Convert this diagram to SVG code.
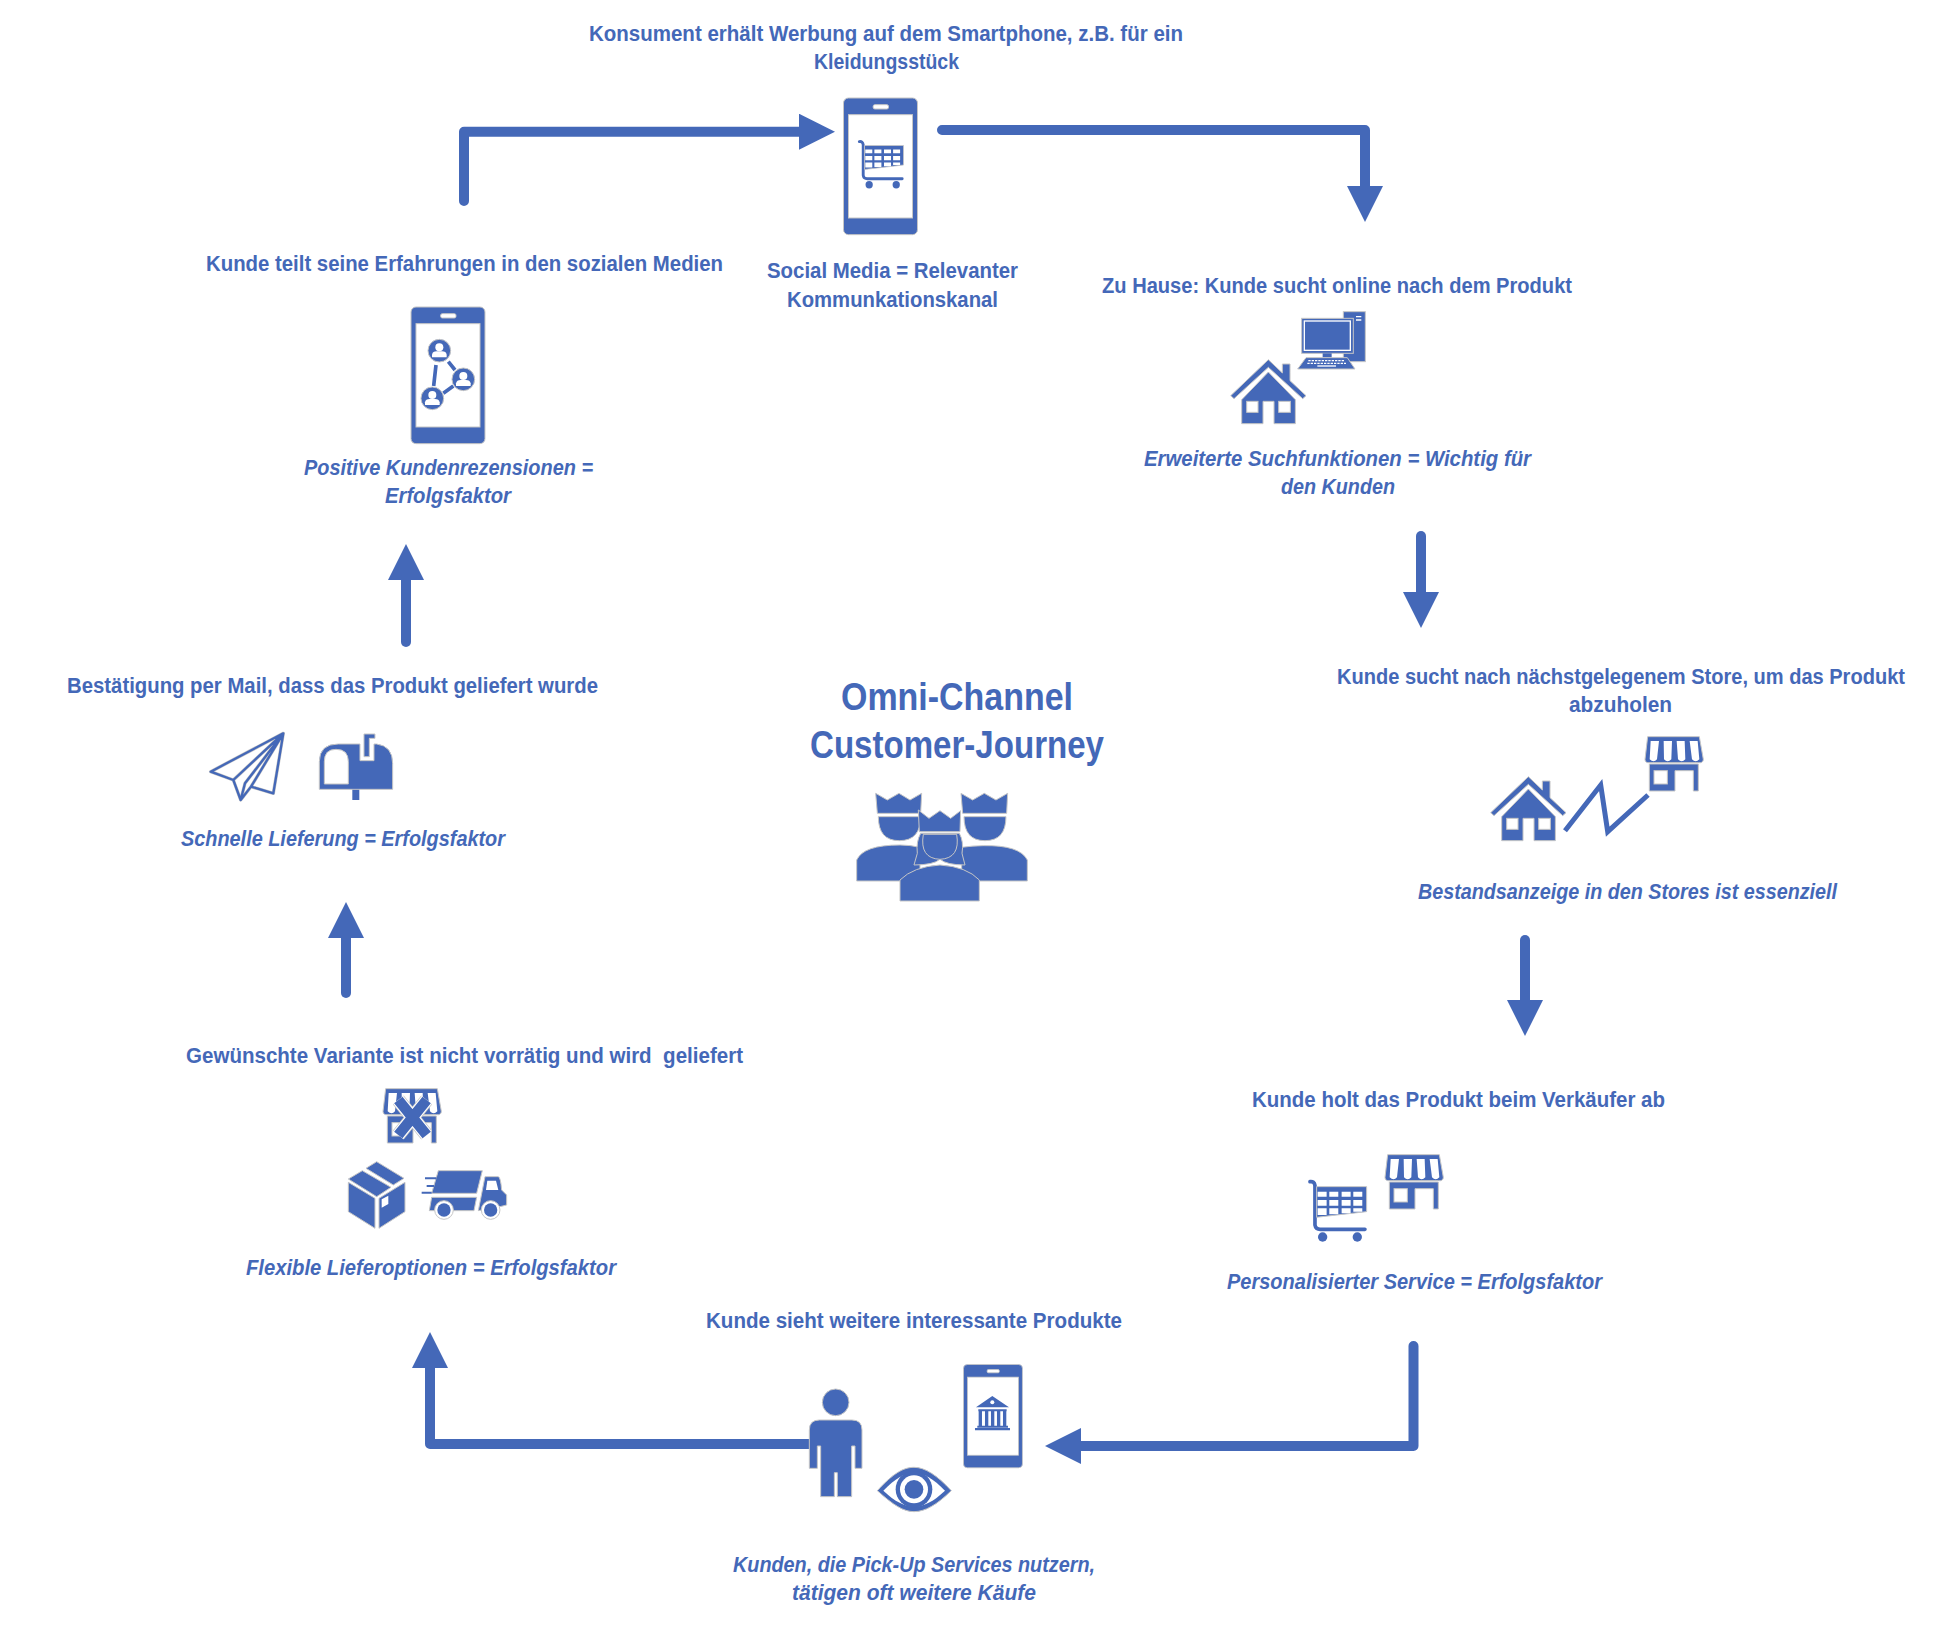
<svg xmlns="http://www.w3.org/2000/svg" xmlns:xlink="http://www.w3.org/1999/xlink" width="1946" height="1632" viewBox="0 0 1946 1632">
<style>
text{font-family:"Liberation Sans",Arial,sans-serif;font-weight:700;font-size:22px;fill:#4468B8}
.i{font-style:italic}
.t{font-size:38px}
.c{fill:none;stroke:#4468B8;stroke-width:10;stroke-linecap:round;stroke-linejoin:round}
.b{fill:#4468B8;stroke:#c6c6c6;stroke-width:3}
.n{fill:#4468B8}
.w{fill:#fff;stroke:#c6c6c6;stroke-width:3}
.l{fill:none;stroke:#4468B8;stroke-linecap:round;stroke-linejoin:round}
</style>
<defs>
<marker id="head" markerUnits="userSpaceOnUse" markerWidth="37" markerHeight="36" refX="1" refY="18" orient="auto" viewBox="0 0 37 36"><path d="M0,0 L36,18 L0,36Z" fill="#4468B8"/></marker>
<g id="phone"><rect x="0" y="0" width="222" height="410" rx="15" class="b"/><rect x="15" y="50" width="192" height="310" class="w"/><rect x="89" y="20" width="46" height="13" rx="5" class="w"/></g>
<g id="house"><path class="b" d="M0,113 L113,5 L155,45 V18 H178 V68 L226,113 L216,122 L113,28 L10,122Z"/><path class="b" d="M33,125 L113,42 L194,125 V197 H130 V130 H97 V197 H33Z"/><rect class="w" x="48" y="130" width="34" height="33"/><rect class="w" x="144" y="130" width="35" height="33"/></g>
<g id="store"><path class="b" d="M8,2 H163 L175,70 Q175,82 160,80 H15 Q0,82 0,70Z"/><path fill="#fff" d="M17,15 H42 L36,70 Q26,82 14,70Z M56,15 H81 L79,70 Q68,82 57,70Z M95,15 H119 L121,70 Q110,82 99,70Z M134,15 H158 L163,70 Q152,82 141,70Z"/><path class="b" d="M13,84 H160 V165 H145 V104 H90 V165 H13Z"/><rect class="w" x="27" y="104" width="40" height="40"/></g>
<g id="cart"><path class="l" stroke-width="11" d="M5,10 Q18,8 20,22 V140 Q22,153 36,153 H170"/><path class="b" d="M25,25 H175 V100 L25,117Z"/><path fill="#fff" d="M28,40h27v15h-27z M63,40h27v15h-27z M100,40h27v15h-27z M135,40h27v15h-27z M28,65h27v17h-27z M63,65h27v17h-27z M100,65h27v17h-27z M135,65h27v17h-27z M28,90h27v20h-27z M63,90h27v18h-27z M100,90h27v15h-27z M135,90h27v10h-27z"/><circle class="n" cx="43" cy="176" r="14"/><circle class="n" cx="147" cy="176" r="14"/></g>
<g id="contact"><circle class="b" r="34"/><circle fill="#fff" cy="-10" r="12"/><path fill="#fff" d="M-22,20 V12 Q-20,2 -8,2 H8 Q20,2 22,12 V20Z"/></g>
</defs>

<g id="connectors">
<path class="c" marker-end="url(#head)" d="M464,201 V131.7 H800"/>
<path class="c" marker-end="url(#head)" d="M942,130 H1365 V187"/>
<path class="c" marker-end="url(#head)" d="M1421,536 V593"/>
<path class="c" marker-end="url(#head)" d="M1525,940 V1001"/>
<path class="c" marker-end="url(#head)" d="M1413.5,1346 V1446 H1080"/>
<path class="c" marker-end="url(#head)" d="M812,1444 H430 V1367"/>
<path class="c" marker-end="url(#head)" d="M346,993 V937"/>
<path class="c" marker-end="url(#head)" d="M406,642 V579"/>
</g>

<g id="node-werbung">
<text x="589" y="41" textLength="594" lengthAdjust="spacingAndGlyphs">Konsument erhält Werbung auf dem Smartphone, z.B. für ein</text>
<text x="814" y="69" textLength="145" lengthAdjust="spacingAndGlyphs">Kleidungsstück</text>
<use xlink:href="#phone" href="#phone" transform="translate(843.5 98) scale(.3333)"/>
<use xlink:href="#cart" href="#cart" transform="translate(858 139) scale(.26)"/>
<text x="767" y="278" textLength="251" lengthAdjust="spacingAndGlyphs">Social Media = Relevanter</text>
<text x="787" y="307" textLength="211" lengthAdjust="spacingAndGlyphs">Kommunkationskanal</text>
</g>

<g id="node-suche">
<text x="1102" y="292.5" textLength="470" lengthAdjust="spacingAndGlyphs">Zu Hause: Kunde sucht online nach dem Produkt</text>
<g transform="translate(1220 290) scale(.3333)">
<rect class="b" x="370" y="65" width="66" height="150"/><path fill="#fff" d="M408,78h16v4h-16z M408,88h16v4h-16z"/>
<rect class="b" x="245" y="85" width="155" height="105"/><rect x="253" y="93" width="138" height="88" fill="#4468B8" stroke="#fff" stroke-width="4"/>
<rect class="n" x="308" y="190" width="27" height="13"/>
<path class="b" d="M258,203 H382 L405,237 H233Z"/><path stroke="#fff" stroke-width="4" stroke-dasharray="7 3" d="M265,212 H372 M262,220 H378" fill="none"/><path stroke="#fff" stroke-width="4" d="M292,228 H348"/>
</g>
<use xlink:href="#house" href="#house" transform="translate(1230.7 358) scale(.3333)"/>
<text class="i" x="1144" y="465.5" textLength="387" lengthAdjust="spacingAndGlyphs">Erweiterte Suchfunktionen = Wichtig für</text>
<text class="i" x="1281" y="494" textLength="114" lengthAdjust="spacingAndGlyphs">den Kunden</text>
</g>

<g id="node-store-suche">
<text transform="translate(1337 684) scale(.85 1)" textLength="668.2" lengthAdjust="spacingAndGlyphs">Kunde sucht nach nächstgelegenem Store, um das Produkt</text>
<text x="1569" y="712" textLength="103" lengthAdjust="spacingAndGlyphs">abzuholen</text>
<use xlink:href="#house" href="#house" transform="translate(1490.7 775) scale(.3333)"/>
<path fill="none" stroke="#4468B8" stroke-width="5" d="M1565,830.7 L1600.7,785 L1607.7,831.7 L1648,795"/>
<use xlink:href="#store" href="#store" transform="translate(1645 736) scale(.3333)"/>
<text class="i" x="1418" y="898.5" textLength="419" lengthAdjust="spacingAndGlyphs">Bestandsanzeige in den Stores ist essenziell</text>
</g>

<g id="node-abholung">
<text x="1252" y="1107" textLength="413" lengthAdjust="spacingAndGlyphs">Kunde holt das Produkt beim Verkäufer ab</text>
<use xlink:href="#cart" href="#cart" transform="translate(1308.3 1178.3) scale(.3333)"/>
<use xlink:href="#store" href="#store" transform="translate(1385 1154) scale(.3333)"/>
<text class="i" x="1227" y="1289" textLength="375" lengthAdjust="spacingAndGlyphs">Personalisierter Service = Erfolgsfaktor</text>
</g>

<g id="node-weitere">
<text x="706" y="1328" textLength="416" lengthAdjust="spacingAndGlyphs">Kunde sieht weitere interessante Produkte</text>
<g transform="translate(790 1360) scale(.3333)">
<circle class="b" cx="137" cy="127" r="40"/>
<path class="b" d="M58,325 V210 Q58,180 88,180 H186 Q216,180 216,210 V325 H195 V258 H185 V410 H142 V338 H133 V410 H92 V258 H82 V325Z"/>
<path class="b" d="M262,392 C310,340 340,322 372,322 C405,322 440,345 484,392 C440,435 405,455 372,455 C340,455 310,435 262,392Z"/>
<path fill="#fff" d="M280,392 C315,355 345,338 372,338 C400,338 430,355 465,392 C430,425 400,440 372,440 C345,440 315,425 280,392Z"/>
<circle class="n" cx="372" cy="388" r="55"/><circle fill="#fff" cx="372" cy="388" r="42"/><circle class="n" cx="372" cy="388" r="28"/>
</g>
<use xlink:href="#phone" href="#phone" transform="translate(963.5 1364.5) scale(.2655 .252)"/>
<g transform="translate(790 1360) scale(.3333)">
<path class="n" d="M558,142 L607,108 L657,142Z M565,148 H650 V154 H565Z M555,204 H660 V211 H555Z M566,154h10v44h-10z M585,154h10v44h-10z M603,154h10v44h-10z M621,154h10v44h-10z M639,154h10v44h-10z M562,197h92v6h-92z"/>
<circle fill="#fff" cx="607" cy="127" r="6"/>
</g>
<text class="i" x="733" y="1571.5" textLength="362" lengthAdjust="spacingAndGlyphs">Kunden, die Pick-Up Services nutzern,</text>
<text class="i" x="792" y="1600" textLength="244" lengthAdjust="spacingAndGlyphs">tätigen oft weitere Käufe</text>
</g>

<g id="node-lieferung">
<text x="186" y="1062.5" textLength="557" lengthAdjust="spacingAndGlyphs" xml:space="preserve">Gewünschte Variante ist nicht vorrätig und wird  geliefert</text>
<use xlink:href="#store" href="#store" transform="translate(383 1088) scale(.3333)"/>
<g transform="translate(330 1080) scale(.3333)">
<path fill="none" stroke="#c6c6c6" stroke-width="42" d="M205,60 L290,165 M290,60 L205,165"/>
<path fill="none" stroke="#fff" stroke-width="38" d="M205,60 L290,165 M290,60 L205,165"/>
<path fill="none" stroke="#4468B8" stroke-width="32" d="M205,60 L290,165 M290,60 L205,165"/>
<path class="b" d="M55,297 L97,272 L183,322 L140,350Z"/>
<path class="b" d="M108,265 L140,245 L222,295 L190,315Z"/>
<path class="b" d="M55,307 L135,355 V445 L55,395Z"/>
<path class="b" d="M147,355 L225,307 V395 L147,445Z"/>
<path fill="#fff" d="M155,358 L175,347 V372 L155,383Z"/>
<path class="b" d="M325,272 H457 L440,340 H305Z"/>
<path fill="none" stroke="#4468B8" stroke-width="6" d="M285,295 H320 M290,318 H312 M275,338 H305"/>
<path class="b" d="M305,352 H440 L432,392 H298Z"/>
<path class="b" d="M465,290 H505 Q512,292 515,330 L530,345 V375 L510,380 L445,392Z"/>
<path fill="#fff" d="M472,302 H498 L505,330 H468Z"/>
<circle class="w" cx="342" cy="390" r="28"/><circle class="w" cx="482" cy="390" r="28"/>
<circle class="n" cx="342" cy="390" r="20"/><circle class="n" cx="482" cy="390" r="20"/>
</g>
<text class="i" x="246" y="1274.5" textLength="370" lengthAdjust="spacingAndGlyphs">Flexible Lieferoptionen = Erfolgsfaktor</text>
</g>

<g id="node-mail">
<text x="67" y="692.5" textLength="531" lengthAdjust="spacingAndGlyphs">Bestätigung per Mail, dass das Produkt geliefert wurde</text>
<g transform="translate(190 720) scale(.3333)">
<path fill="none" stroke="#c6c6c6" stroke-width="10" stroke-linejoin="round" d="M280,40 L62,155 L130,180 L152,240 L183,200 L250,220Z M280,40 L130,180 M280,40 L165,190 L152,240 M280,40 L183,200"/>
<path fill="none" stroke="#4468B8" stroke-width="7" stroke-linejoin="round" d="M280,40 L62,155 L130,180 L152,240 L183,200 L250,220Z M280,40 L130,180 M280,40 L165,190 L152,240 M280,40 L183,200"/>
<path class="n" d="M487,205h21v35h-21z"/>
<path class="b" d="M388,208 V125 Q388,72 445,72 H510 V122 H552 V72 H560 Q608,78 608,130 V208Z"/>
<path class="w" d="M403,192 V125 Q403,88 438,88 Q475,88 475,125 V192Z"/>
<path class="b" d="M522,42 H555 V55 H538 V110 H522Z"/>
</g>
<text class="i" x="181" y="845.5" textLength="324" lengthAdjust="spacingAndGlyphs">Schnelle Lieferung = Erfolgsfaktor</text>
</g>

<g id="node-teilen">
<text x="206" y="270.5" textLength="517" lengthAdjust="spacingAndGlyphs">Kunde teilt seine Erfahrungen in den sozialen Medien</text>
<use xlink:href="#phone" href="#phone" transform="translate(411 307) scale(.3333)"/>
<g transform="translate(400 300) scale(.3333)">
<path fill="none" stroke="#4468B8" stroke-width="11" d="M145,185 L165,210 M108,195 L101,258 M130,280 L160,258"/>
<use xlink:href="#contact" href="#contact" x="118" y="152"/>
<use xlink:href="#contact" href="#contact" x="190" y="238"/>
<use xlink:href="#contact" href="#contact" x="97" y="295"/>
</g>
<text class="i" x="304" y="474.5" textLength="289" lengthAdjust="spacingAndGlyphs">Positive Kundenrezensionen =</text>
<text class="i" x="385" y="503" textLength="126" lengthAdjust="spacingAndGlyphs">Erfolgsfaktor</text>
</g>

<g id="node-titel">
<text class="t" x="841" y="710" textLength="232" lengthAdjust="spacingAndGlyphs">Omni-Channel</text>
<text class="t" x="810" y="758" textLength="294" lengthAdjust="spacingAndGlyphs">Customer-Journey</text>
<g transform="translate(830 770) scale(.3333)">
<path class="b" d="M137,70 L172,90 L207,70 L240,90 L275,70 L272,130 H142Z"/>
<path class="b" d="M145,140 H272 Q272,212 208,212 Q145,212 145,140Z"/>
<path class="b" d="M80,333 V270 Q100,225 210,225 Q240,225 270,232 V333Z"/>
<path class="b" d="M393,70 L428,90 L463,70 L498,90 L533,70 L530,130 H398Z"/>
<path class="b" d="M402,140 H528 Q528,212 465,212 Q402,212 402,140Z"/>
<path class="b" d="M592,333 V270 Q570,225 460,227 Q430,227 395,232 V333Z"/>
<path class="b" d="M272,190 Q258,215 262,250 L252,285 Q310,285 330,268 Q350,285 405,285 L396,250 Q402,215 388,190Z"/>
<path class="b" d="M280,193 Q268,265 330,268 Q392,265 380,193Z"/>
<path class="b" d="M265,120 L297,145 L330,122 L362,145 L392,122 L390,185 H268Z"/>
<path class="b" d="M210,393 V330 Q250,290 330,285 Q410,290 448,330 V393Z"/>
</g>
</g>
</svg>
